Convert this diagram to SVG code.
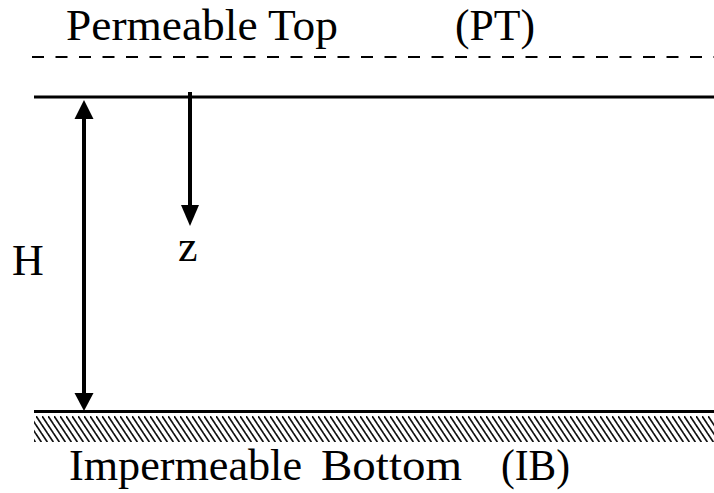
<svg xmlns="http://www.w3.org/2000/svg" width="714" height="493" viewBox="0 0 714 493">
<style>
text{font-family:"Liberation Serif","DejaVu Serif","Times New Roman",serif;font-size:44px;fill:#000}
.ln{stroke:#000;fill:none}
</style>
<defs>
<pattern id="hatch" patternUnits="userSpaceOnUse" width="6" height="27" x="0" y="416">
<line x1="-12" y1="0" x2="6" y2="27" stroke="#111" stroke-width="1.8"/>
<line x1="-6" y1="0" x2="12" y2="27" stroke="#111" stroke-width="1.8"/>
<line x1="0" y1="0" x2="18" y2="27" stroke="#111" stroke-width="1.8"/>
</pattern>
</defs>
<rect width="714" height="493" fill="#fff"/>
<g id="top-boundary">
<line class="ln" x1="32" y1="57" x2="714" y2="57" stroke-width="2.2" stroke-dasharray="12,11.5"/>
<text font-family="Liberation Serif, DejaVu Serif, serif" x="66" y="40" textLength="272" lengthAdjust="spacingAndGlyphs">Permeable Top</text>
<text font-family="Liberation Serif, DejaVu Serif, serif" x="455" y="40" textLength="80" lengthAdjust="spacingAndGlyphs">(PT)</text>
</g>
<g id="layer-top">
<line class="ln" x1="34" y1="97" x2="714" y2="97" stroke-width="3"/>
</g>
<g id="bottom-boundary">
<rect x="34" y="416" width="680" height="26" fill="url(#hatch)"/>
<line class="ln" x1="34" y1="411.5" x2="714" y2="411.5" stroke-width="3"/>
<text font-family="Liberation Serif, DejaVu Serif, serif" x="69" y="480" textLength="233" lengthAdjust="spacingAndGlyphs">Impermeable</text>
<text font-family="Liberation Serif, DejaVu Serif, serif" x="321" y="480" textLength="141" lengthAdjust="spacingAndGlyphs">Bottom</text>
<text font-family="Liberation Serif, DejaVu Serif, serif" x="501" y="480" textLength="69" lengthAdjust="spacingAndGlyphs">(IB)</text>
</g>
<g id="labels">
<text font-family="Liberation Serif, DejaVu Serif, serif" x="12" y="275">H</text>
<text font-family="Liberation Serif, DejaVu Serif, serif" x="178" y="261">z</text>
</g>
<g id="connectors">
<line class="ln" x1="84" y1="115" x2="84" y2="396" stroke-width="4"/>
<polygon points="84,100 74.5,119 93.5,119" fill="#000"/>
<polygon points="84,411 74.5,393 93.5,393" fill="#000"/>
<line class="ln" x1="190" y1="92" x2="190" y2="208" stroke-width="4"/>
<polygon points="190,226 181,205 199,205" fill="#000"/>
</g>
</svg>
